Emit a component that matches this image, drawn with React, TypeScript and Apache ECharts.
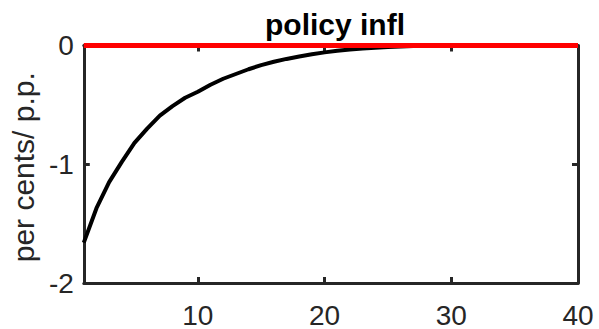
import React, { useEffect, useRef } from "react";
import * as echarts from "echarts";

// Impulse response horizon (quarters)
const periods: number[] = Array.from({ length: 40 }, (_, i) => i + 1);

// Response of inflation to a policy shock, per cent deviation
const response: number[] = [
  -1.66, -1.37, -1.15, -0.98, -0.82, -0.7, -0.59, -0.51, -0.44, -0.39,
  -0.33, -0.28, -0.24, -0.2, -0.165, -0.137, -0.113, -0.092, -0.074, -0.058,
  -0.045, -0.034, -0.025, -0.018, -0.012, -0.008, -0.005, -0.003, -0.002, -0.001,
  0, 0, 0, 0, 0, 0, 0, 0, 0, 0,
];

// Steady-state reference line
const baseline: number[] = [0, 0];
const baselineX: number[] = [1, 40];

const xTicks: number[] = [10, 20, 30, 40];
const yTicks: number[] = [-2, -1, 0];

const FONT = "Liberation Sans, Arial, Helvetica, sans-serif";
const AXIS = "#262626";

export default function App() {
  const ref = useRef<HTMLDivElement>(null);

  useEffect(() => {
    if (!ref.current) return;
    const chart = echarts.init(ref.current, undefined, { renderer: "svg" });

    const xCommon = {
      type: "value" as const,
      min: 1,
      max: 40,
      axisLine: { show: true, onZero: false, lineStyle: { color: AXIS, width: 3 } },
      axisTick: { show: true, inside: true, length: 6, customValues: xTicks, lineStyle: { color: AXIS, width: 3 } },
      splitLine: { show: false },
    };
    const yCommon = {
      type: "value" as const,
      min: -2,
      max: 0,
      interval: 1,
      axisLine: { show: true, onZero: false, lineStyle: { color: AXIS, width: 3 } },
      axisTick: { show: true, inside: true, length: 6, lineStyle: { color: AXIS, width: 3 } },
      splitLine: { show: false },
    };

    chart.setOption({
      animation: false,
      backgroundColor: "#ffffff",
      title: {
        text: "policy infl",
        left: 330,
        top: 4,
        textAlign: "center",
        textStyle: { fontFamily: FONT, fontSize: 30, fontWeight: "bold", color: "#000000" },
      },
      grid: { left: 82.5, right: 21, top: 45.5, bottom: 43.5, containLabel: false },
      xAxis: [
        {
          ...xCommon,
          position: "bottom",
          axisLabel: {
            show: true,
            customValues: xTicks,
            margin: 18,
            fontFamily: FONT,
            fontSize: 28,
            color: AXIS,
            formatter: (v: number) => String(v),
          },
        },
        { ...xCommon, position: "top", axisLabel: { show: false } },
      ],
      yAxis: [
        {
          ...yCommon,
          position: "left",
          name: "per cents/ p.p.",
          nameLocation: "middle",
          nameGap: 44,
          nameRotate: 90,
          nameTextStyle: { fontFamily: FONT, fontSize: 30, color: AXIS, padding: [0, 0, 0, -6] },
          axisLabel: {
            show: true,
            margin: 10,
            fontFamily: FONT,
            fontSize: 28,
            color: AXIS,
            formatter: (v: number) => (yTicks.includes(v) ? String(v) : ""),
          },
        },
        { ...yCommon, position: "right", axisLabel: { show: false } },
      ],
      series: [
        {
          type: "line",
          data: periods.map((p, i) => [p, response[i]]),
          showSymbol: false,
          lineStyle: { color: "#000000", width: 4 },
          z: 3,
        },
        {
          type: "line",
          data: baselineX.map((p, i) => [p, baseline[i]]),
          showSymbol: false,
          lineStyle: { color: "#ff0000", width: 5 },
          z: 4,
        },
      ],
    });

    return () => chart.dispose();
  }, []);

  return (
    <div
      ref={ref}
      style={{ position: "fixed", left: 0, top: 0, width: 599, height: 329, background: "#fff" }}
    />
  );
}
